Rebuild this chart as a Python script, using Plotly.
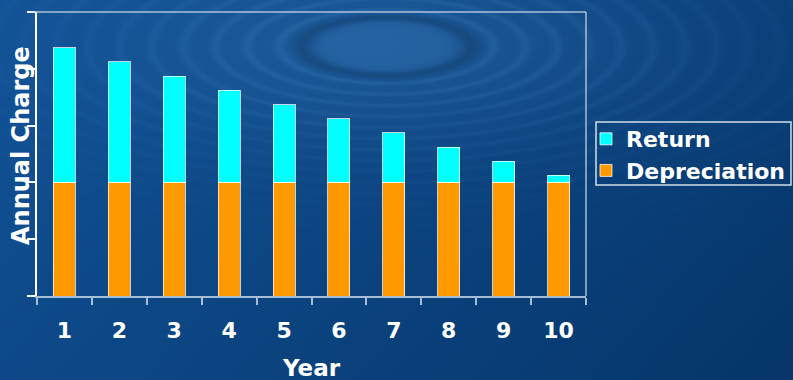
import base64
import struct
import zlib

import numpy as np
import plotly.graph_objects as go

# ---- data -------------------------------------------------------------
years = ["1", "2", "3", "4", "5", "6", "7", "8", "9", "10"]
depreciation = [2.0, 2.0, 2.0, 2.0, 2.0, 2.0, 2.0, 2.0, 2.0, 2.0]
returns = [2.37, 2.12, 1.87, 1.62, 1.37, 1.12, 0.87, 0.62, 0.37, 0.13]

W, H = 793, 380
FONT = "DejaVu Sans"


def px_x(p):
    return p / W


def px_y(p):
    return 1 - p / H


# ---- backdrop: blue gradient with a water ripple ----------------------
def make_backdrop():
    yy, xx = np.mgrid[0:H, 0:W].astype(float)
    t = np.clip(0.7 * xx / W + 0.3 * yy / H, 0, 1)[..., None]
    c_a = np.array([17, 82, 150], float)
    c_b = np.array([6, 54, 106], float)
    base = c_a * (1 - t) + c_b * t

    u = np.sqrt(((xx - 386) / 2.9) ** 2 + (yy - 46) ** 2)
    glow = 0.26 * np.exp(-(u / 95) ** 2)
    disk = 0.16 / (1 + np.exp((u - 25) / 1.8))
    rings = (0.5 + 0.5 * np.cos(2 * np.pi * (u - 26) / 11.0)) ** 3
    rings = 0.17 * rings * np.exp(-(u / 120) ** 2) * (u > 31)
    lift = np.clip(glow + disk + rings, 0, 1)[..., None]
    shade = (0.14 * np.exp(-((u - 29) / 3.5) ** 2))[..., None]

    light = np.array([70, 135, 200], float)
    img = base + (light - base) * lift
    img = img * (1 - shade)
    return np.clip(img, 0, 255).astype(np.uint8)


def png_data_uri(arr):
    h, w, _ = arr.shape
    raw = b"".join(b"\x00" + arr[r].tobytes() for r in range(h))

    def chunk(tag, data):
        c = struct.pack(">I", len(data)) + tag + data
        return c + struct.pack(">I", zlib.crc32(tag + data) & 0xFFFFFFFF)

    png = b"\x89PNG\r\n\x1a\n"
    png += chunk(b"IHDR", struct.pack(">IIBBBBB", w, h, 8, 2, 0, 0, 0))
    png += chunk(b"IDAT", zlib.compress(raw, 9))
    png += chunk(b"IEND", b"")
    return "data:image/png;base64," + base64.b64encode(png).decode()


backdrop = png_data_uri(make_backdrop())

# ---- figure -----------------------------------------------------------
edge = "rgba(255,255,255,0.75)"
frame = "rgba(205,220,235,0.8)"

fig = go.Figure()
fig.add_trace(go.Bar(
    name="Depreciation", x=years, y=depreciation,
    marker=dict(color="#ff9900", line=dict(color=edge, width=1)),
))
fig.add_trace(go.Bar(
    name="Return", x=years, y=returns,
    marker=dict(color="#00ffff", line=dict(color=edge, width=1)),
))

fig.update_layout(
    width=W, height=H,
    margin=dict(l=0, r=0, t=0, b=0),
    paper_bgcolor="#0a4583",
    plot_bgcolor="rgba(0,0,0,0)",
    barmode="stack",
    bargap=0.6,
    font=dict(family=FONT, color="white", size=22),
    images=[dict(
        source=backdrop, xref="paper", yref="paper",
        x=0, y=1, sizex=1, sizey=1, xanchor="left", yanchor="top",
        sizing="stretch", layer="below",
    )],
    xaxis=dict(
        domain=[px_x(37), px_x(586)],
        type="category",
        range=[-0.5, 9.5],
        showgrid=False, zeroline=False,
        showline=True, linecolor=frame, linewidth=1.5,
        ticks="outside", tickson="boundaries", ticklen=7,
        tickcolor=frame, tickwidth=1.5,
        ticklabelstandoff=14,
        tickfont=dict(family=FONT, size=22, color="white", weight="bold"),
        automargin=False,
    ),
    yaxis=dict(
        domain=[px_y(296), px_y(12)],
        range=[0, 5], dtick=1,
        showgrid=False, zeroline=False,
        showline=True, linecolor="white", linewidth=1.5,
        ticks="outside", ticklen=8, tickcolor="white", tickwidth=1.5,
        showticklabels=False,
        automargin=False,
    ),
    legend=dict(
        x=px_x(586), y=px_y(118), xanchor="left", yanchor="top",
        traceorder="reversed",
        bgcolor="rgba(0,0,0,0)", borderwidth=0,
        font=dict(family=FONT, size=22, color="white", weight="bold"),
    ),
    shapes=[
        # top and right edges of the plot frame
        dict(type="line", xref="paper", yref="paper",
             x0=px_x(30), x1=px_x(586), y0=px_y(12), y1=px_y(12),
             line=dict(color=frame, width=1.5)),
        dict(type="line", xref="paper", yref="paper",
             x0=px_x(586), x1=px_x(586), y0=px_y(12), y1=px_y(296),
             line=dict(color=frame, width=1.5)),
        # legend box
        dict(type="rect", xref="paper", yref="paper",
             x0=px_x(596), x1=px_x(791), y0=px_y(122), y1=px_y(185),
             line=dict(color="rgba(230,238,245,0.9)", width=1.5)),
    ],
    annotations=[
        dict(text="Year", xref="paper", yref="paper",
             x=px_x(311), y=px_y(368), xanchor="center", yanchor="middle",
             showarrow=False,
             font=dict(family=FONT, size=23, color="white", weight="bold")),
        dict(text="Annual Charge", xref="paper", yref="paper",
             x=px_x(21), y=px_y(146), xanchor="center", yanchor="middle",
             textangle=-90, showarrow=False,
             font=dict(family=FONT, size=24, color="white", weight="bold")),
    ],
)

fig.write_html("out.html")
